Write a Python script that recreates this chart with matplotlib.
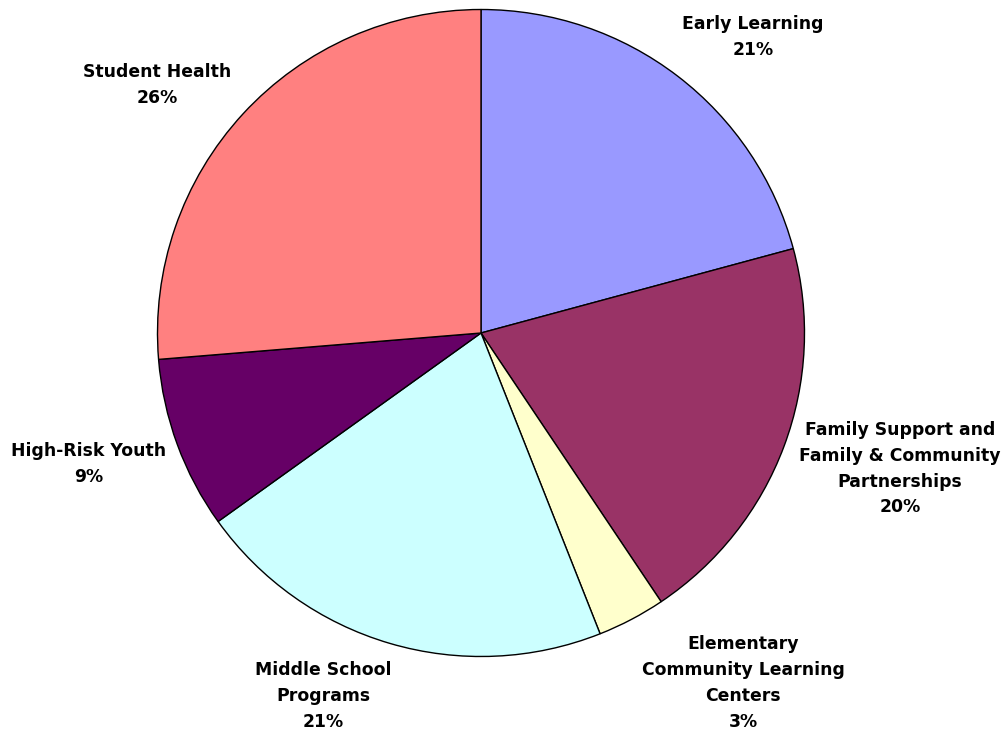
import matplotlib
matplotlib.use("Agg")
import numpy as np
import matplotlib.pyplot as plt

# funding share by program area, clockwise from 12 o'clock
categories = ["Early Learning",
              "Family Support and\nFamily & Community\nPartnerships",
              "Elementary\nCommunity Learning\nCenters",
              "Middle School\nPrograms",
              "High-Risk Youth",
              "Student Health"]
shares = [20.8, 19.8, 3.4, 21.1, 8.6, 26.3]
colors = ["#9999FF", "#993366", "#FFFFCC", "#CCFFFF", "#660066", "#FF8080"]

# label anchor points (in pie-radius units, relative to centre)
label_xy = [(0.84, 0.915), (1.295, -0.42), (0.81, -1.082),
            (-0.488, -1.122), (-1.212, -0.405), (-1.0, 0.767)]

W, H = 1008, 734
cx, cy, R = 481, 333, 323.5

fig = plt.figure(figsize=(W / 100, H / 100), dpi=100)
fig.patch.set_facecolor("white")
ax = fig.add_axes([0, 0, 1, 1])

ax.pie(shares, colors=colors, startangle=90, counterclock=False,
       wedgeprops=dict(edgecolor="black", linewidth=1.0))
ax.set_xlim(-cx / R, (W - cx) / R)
ax.set_ylim(-(H - cy) / R, cy / R)
ax.set_aspect("auto")
ax.axis("off")

for name, val, (lx, ly) in zip(categories, shares, label_xy):
    ax.text(lx, ly, f"{name}\n{val:.0f}%", ha="center", va="center",
            fontsize=12.4, fontweight="bold", family="DejaVu Sans",
            linespacing=1.55, color="black")

fig.savefig("out.png", dpi=100)
